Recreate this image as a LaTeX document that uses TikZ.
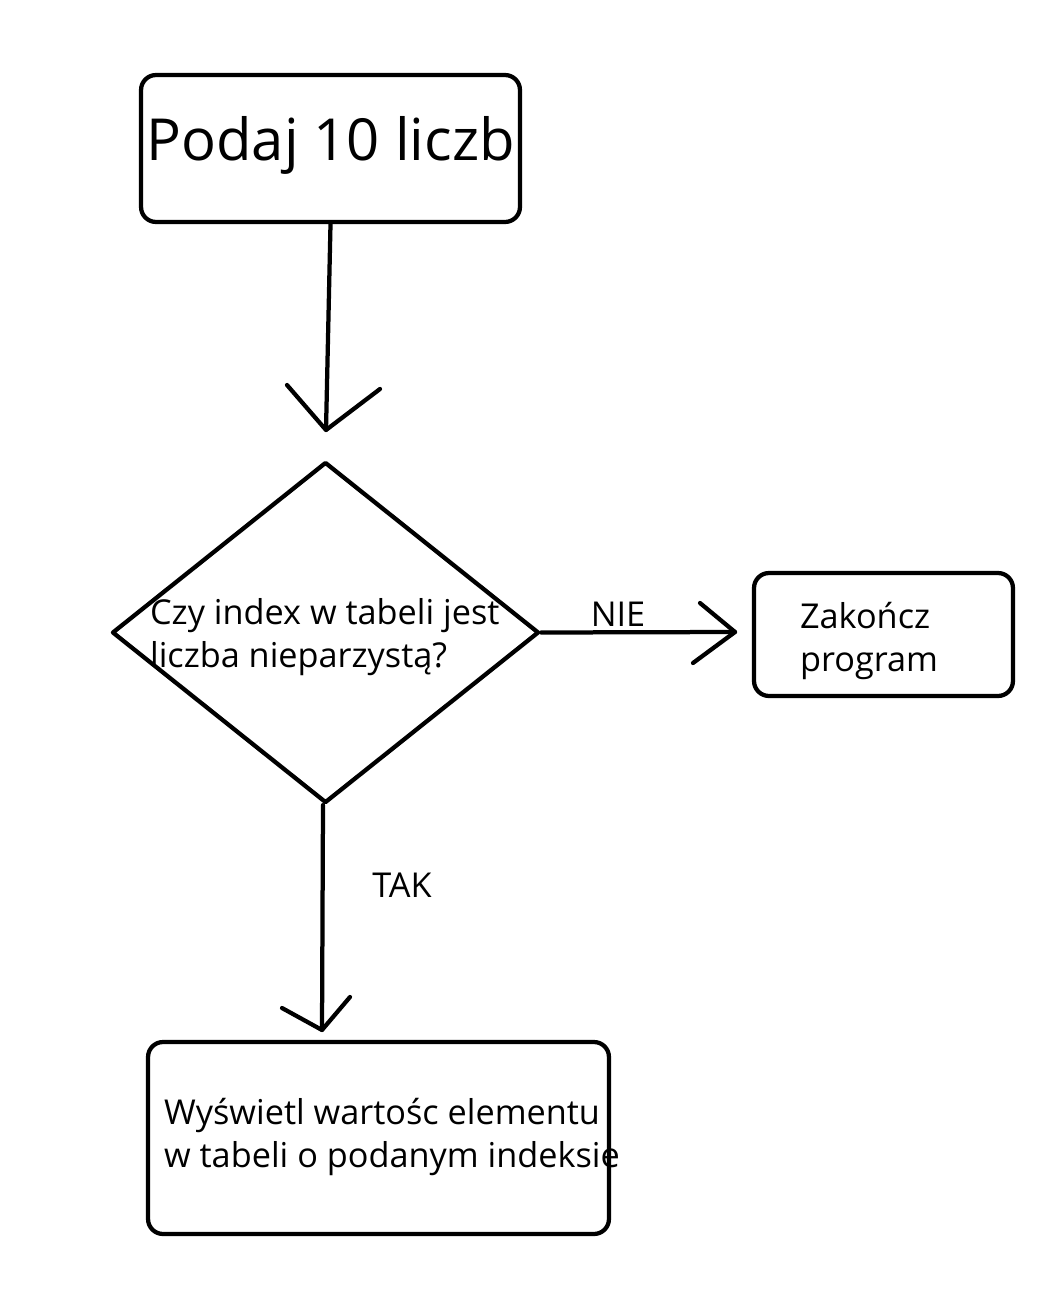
\documentclass[tikz,border=0pt]{standalone}
\usepackage{fontspec}
\setmainfont{Open Sans}
\usetikzlibrary{positioning, shapes.geometric}

\begin{document}
\begin{tikzpicture}[x=0.02cm, y=-0.02cm, line width=0.085cm, line cap=round, line join=round,
  main node/.style={rectangle,draw,rounded corners=0.3cm,inner sep=0pt},
  decision node/.style={diamond,draw,inner sep=0pt},
  text node/.style={inner sep=0pt,align=left,font=\fontsize{19.5}{24.5}\selectfont}]

\useasboundingbox (0,0) rectangle (1055,1295);

\node[main node, minimum width=7.58cm, minimum height=2.94cm] (start) at (330.5,148.5) {};
\node[decision node, minimum width=8.54cm, minimum height=6.82cm] (check) at (325.5,632.5) {};
\node[main node, minimum width=5.18cm, minimum height=2.46cm] (stop) at (883.5,634.5) {};
\node[main node, minimum width=9.22cm, minimum height=3.84cm] (show) at (378.5,1138) {};

\node[inner sep=0pt, anchor=base, font=\fontsize{33}{40}\selectfont] (starttext) at (330.5,160) {Podaj 10 liczb};
\node[text node, anchor=west] (checktext) at (148,637) {Czy index w tabeli jest\\liczba nieparzystą?};
\node[text node, anchor=west] (stoptext) at (798,641) {Zakończ\\program};
\node[text node, anchor=west] (showtext) at (162,1137) {Wyświetl wartośc elementu\\w tabeli o podanym indeksie};

\coordinate (tipA) at (326,430);
\coordinate (tipB) at (735,632);
\coordinate (tipC) at (322,1030);

% connectors with open hand-drawn heads
\draw (start.south) -- (tipA);
\draw (tipA) ++(-39,-45) -- (tipA) -- ++(54,-41);

\draw (check.east) -- (tipB);
\draw (tipB) ++(-35,-29) -- (tipB) -- ++(-42,31);

\draw ([xshift=-0.05cm]check.south) -- (tipC);
\draw (tipC) ++(-40,-22) -- (tipC) -- ++(28,-33);

\node[text node] (nie) at (618,614) {NIE};
\node[text node] (tak) at (402,885) {TAK};

\end{tikzpicture}
\end{document}
